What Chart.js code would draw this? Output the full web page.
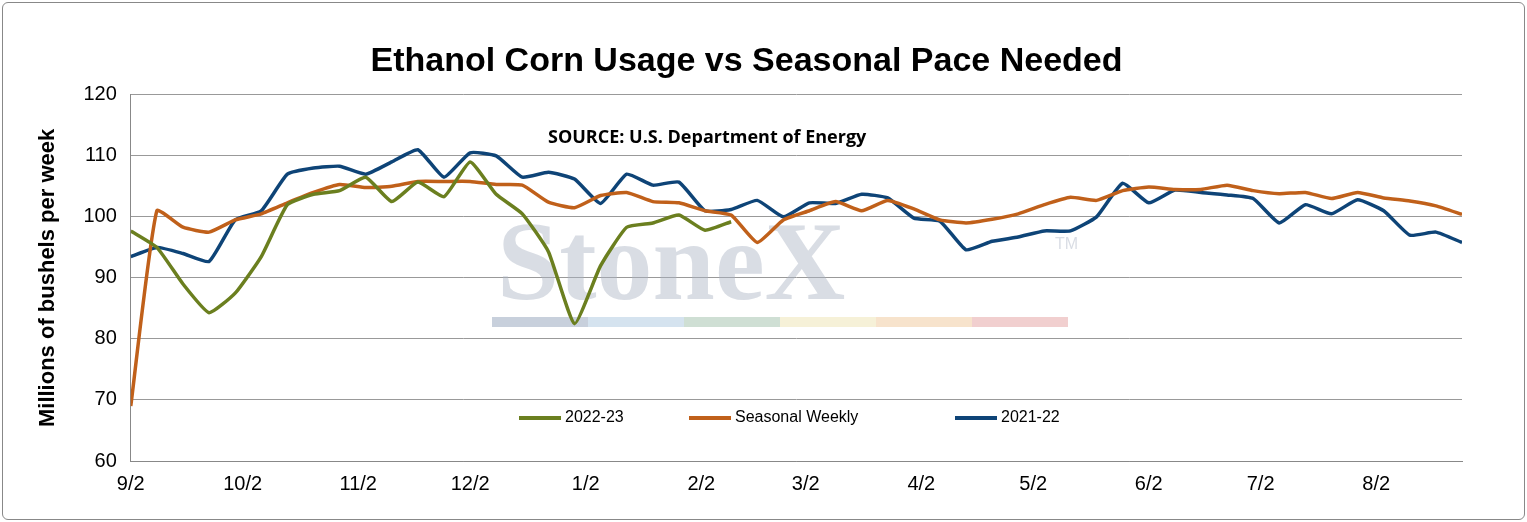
<!DOCTYPE html>
<html><head>
<script src="https://cdn.jsdelivr.net/npm/chart.js@4.4.0/dist/chart.umd.min.js"></script>
<style>
html,body{margin:0;padding:0;background:#fff;}
#wrap{position:absolute;left:2px;top:2px;width:1521px;height:516px;border:1px solid #888;border-radius:6px;}
canvas{display:block;}
</style>
</head><body>
<div id="wrap"><canvas id="c" width="1521" height="516"></canvas></div>
<script>
// month tick positions, days after 9/2
var monthDays = [0, 30, 61, 91, 122, 153, 181, 212, 242, 273, 303, 334];
var monthLabels = ['9/2','10/2','11/2','12/2','1/2','2/2','3/2','4/2','5/2','6/2','7/2','8/2'];

var crop2223 = [97.7,95,89,84.3,87.5,93.5,102,103.7,104.3,106.5,102.5,105.7,103.3,109,103.7,100.5,94.3,82.5,92,98.3,99,100.3,97.8,99.2];
var seasonal = [69,101,98.3,97.5,99.5,100.5,102.3,104,105.3,104.8,105,105.8,105.8,105.8,105.3,105.2,102.4,101.5,103.5,104,102.5,102.3,101,100.3,95.8,99.5,101,102.5,101,102.7,101.3,99.5,99,99.6,100.5,102,103.2,102.7,104.3,104.9,104.5,104.5,105.2,104.3,103.8,104,103,104,103.1,102.6,101.8,100.4];
var crop2122 = [93.5,95,94,92.7,99.5,101,107,108,108.3,107,109,111,106.5,110.5,110,106.5,107.3,106.2,102.2,107,105.2,105.7,101,101.2,102.7,100,102.3,102.2,103.7,103.1,99.8,99.3,94.6,96,96.7,97.7,97.7,100,105.5,102.3,104.4,104,103.6,103,99,102,100.5,102.8,101,97,97.5,95.8];

var pts = function(arr){ return arr.map(function(v,i){ return {x: i*7, y: v}; }); };

var colGreen = '#6b7f1f', colOrange = '#c0601a', colBlue = '#0e4477';

var decor = {
	id: 'decor',
	beforeDatasetsDraw: function(chart){
		var ctx = chart.ctx;
		ctx.save();
		ctx.fillStyle = 'rgba(170,180,195,0.45)';
		ctx.font = 'bold 112px "Liberation Serif", serif';
		ctx.textAlign = 'left';
		ctx.textBaseline = 'alphabetic';
		ctx.fillText('StoneX', 494, 296);
		ctx.font = '16px "Liberation Sans"';
		ctx.fillText('TM', 1052, 246);
		var cols = ['#c8d0dc','#d5e3ef','#cfdfd4','#f6f1d8','#f7e3cc','#f1cfcf'];
		for (var i = 0; i < 6; i++) { ctx.fillStyle = cols[i]; ctx.fillRect(489 + i*96, 314, 96, 10); }
		ctx.restore();
	},
	afterDraw: function(chart){
		var ctx = chart.ctx;
		ctx.save();
		ctx.fillStyle = '#000';
		ctx.font = 'bold 18px "Open Sans", sans-serif';
		ctx.textAlign = 'left';
		ctx.fillText('SOURCE: U.S. Department of Energy', 545, 140);
		var items = [['2022-23', colGreen, 516], ['Seasonal Weekly', colOrange, 686], ['2021-22', colBlue, 952]];
		ctx.font = '16px "Liberation Sans"';
		ctx.textBaseline = 'middle';
		items.forEach(function(it){
			ctx.strokeStyle = it[1]; ctx.lineWidth = 4;
			ctx.beginPath(); ctx.moveTo(it[2], 415); ctx.lineTo(it[2] + 42, 415); ctx.stroke();
			ctx.fillStyle = '#000'; ctx.fillText(it[0], it[2] + 46, 415);
		});
		ctx.restore();
	}
};

var ds = function(label, data, col){
	return { label: label, data: pts(data), borderColor: col, backgroundColor: col, borderWidth: 3.5, pointRadius: 0, tension: 0.15, fill: false };
};

new Chart(document.getElementById('c'), {
	type: 'line',
	data: { datasets: [ds('2022-23', crop2223, colGreen), ds('Seasonal Weekly', seasonal, colOrange), ds('2021-22', crop2122, colBlue)] },
	options: {
		responsive: false,
		animation: false,
		layout: { padding: { left: 28, right: 62, top: 4, bottom: 20 } },
		plugins: {
			legend: { display: false },
			tooltip: { enabled: false },
			title: { display: true, text: 'Ethanol Corn Usage vs Seasonal Pace Needed', color: '#000', font: { family: 'Liberation Sans', size: 34, weight: 'bold' }, padding: { top: 34, bottom: 13 } }
		},
		scales: {
			x: {
				type: 'linear', min: 0, max: 357,
				afterBuildTicks: function(axis){ axis.ticks = monthDays.map(function(d){ return {value: d}; }); },
				ticks: { autoSkip: false, maxRotation: 0, color: '#000', font: { family: 'Liberation Sans', size: 20 }, callback: function(v){ var i = monthDays.indexOf(v); return i >= 0 ? monthLabels[i] : ''; } },
				grid: { display: false, drawTicks: true },
				border: { color: '#888' }
			},
			y: {
				min: 60, max: 120,
				ticks: { stepSize: 10, color: '#000', font: { family: 'Liberation Sans', size: 20 }, padding: 14 },
				grid: { color: '#999', drawTicks: false },
				border: { color: '#888' },
				title: { display: true, text: 'Millions of bushels per week', color: '#000', font: { family: 'Liberation Sans', size: 22, weight: 'bold' }, padding: { bottom: 8 } }
			}
		}
	},
	plugins: [decor]
});
</script>
</body></html>
